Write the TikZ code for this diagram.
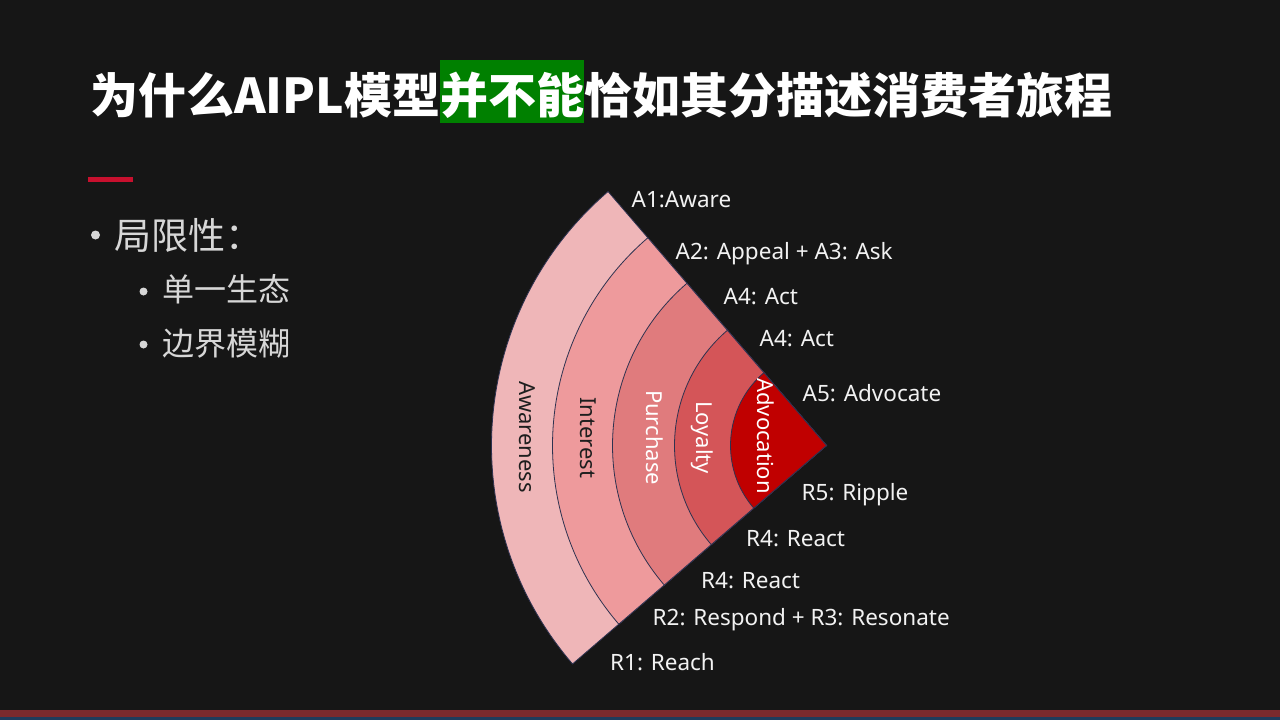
\documentclass[tikz,border=0pt]{standalone}
\usepackage{fontspec}
\setmainfont{Noto Sans CJK SC}
\newfontfamily\latinf{Noto Sans}
\usetikzlibrary{calc}
\definecolor{bg}{RGB}{22,22,22}
\definecolor{cAw}{RGB}{239,182,184}
\definecolor{cIn}{RGB}{238,154,156}
\definecolor{cPu}{RGB}{224,123,125}
\definecolor{cLo}{RGB}{212,85,88}
\definecolor{cAd}{RGB}{192,0,0}
\definecolor{edgec}{RGB}{46,50,80}
\definecolor{labelc}{RGB}{242,242,242}
\definecolor{darktxt}{RGB}{30,30,30}
\definecolor{hlgreen}{RGB}{0,128,0}
\definecolor{accent}{RGB}{200,16,46}
\definecolor{stripred}{RGB}{122,42,46}
\definecolor{stripblue}{RGB}{30,60,92}
\definecolor{bullettxt}{RGB}{215,215,215}
\begin{document}
\begin{tikzpicture}[x=1pt,y=-1pt,
  titlef/.style={font=\bfseries\fontsize{48}{56}\selectfont, text=white, inner sep=0pt},
  lbl/.style={font=\latinf\fontsize{22.5}{26}\selectfont, text=labelc, inner sep=0pt, anchor=base west},
  bandl/.style={font=\latinf\fontsize{22}{26}\selectfont, rotate=-90, inner sep=0pt},
  bone/.style={font=\fontsize{37}{44}\selectfont, text=bullettxt, inner sep=0pt, anchor=base west},
  btwo/.style={font=\fontsize{32}{38}\selectfont, text=bullettxt, inner sep=0pt, anchor=base west},
  sector/.style={draw=edgec, line width=0.8pt, line join=miter}]
\useasboundingbox (0,0) rectangle (1280,720);
\fill[bg] (0,0) rectangle (1280,720);
% bottom strip
\fill[stripred] (0,710) rectangle (1280,717);
\fill[stripblue] (0,717) rectangle (1280,720);
% title
\fill[hlgreen] (440,60) rectangle (584,123);
\node[titlef, anchor=base west] (t1) at (90,113) {为什么AIPL模型};
\node[titlef, anchor=base] (t2) at (512,113) {并不能};
\node[titlef, anchor=base west] (t3) at (584,113) {恰如其分描述消费者旅程};
% accent bar
\fill[accent] (88,177) rectangle (133,182);
% bullets
\fill[bullettxt] (95.5,235) circle[radius=4.5];
\node[bone] (b1) at (114,249) {局限性：};
\fill[bullettxt] (143.5,291.5) circle[radius=4];
\node[btwo] (b2) at (162,301) {单一生态};
\fill[bullettxt] (143.5,344.5) circle[radius=4];
\node[btwo] (b3) at (162,355) {边界模糊};
% fan
\coordinate (C) at (826.5,445.5);
\foreach \r/\c in {335/cAw, 274/cIn, 214/cPu, 152/cLo, 96/cAd}{
  \filldraw[sector, fill=\c] (C) -- ++(139.3:\r) arc[start angle=139.3, end angle=229.3, radius=\r] -- cycle;
}
% band labels
\node[bandl, text=darktxt] (nAw) at (527,437) {Awareness};
\node[bandl, text=darktxt] (nIn) at (588,437.5) {Interest};
\node[bandl, text=white] (nPu) at (655,437.5) {Purchase};
\node[bandl, text=white] (nLo) at (702,437.5) {Loyalty};
\node[bandl, text=white] (nAd) at (766,436) {Advocation};
% stage labels
\node[lbl] (a1) at (631.5,207.5) {A1:Aware};
\node[lbl] (a2) at (675.5,259) {A2: Appeal + A3: Ask};
\node[lbl] (a4a) at (723.5,304.5) {A4: Act};
\node[lbl] (a4b) at (759.5,346) {A4: Act};
\node[lbl] (a5) at (802.5,401.5) {A5: Advocate};
\node[lbl] (r5) at (801.5,500.5) {R5: Ripple};
\node[lbl] (r4a) at (746,546.5) {R4: React};
\node[lbl] (r4b) at (701,588.5) {R4: React};
\node[lbl] (r2) at (652.5,625) {R2: Respond + R3: Resonate};
\node[lbl] (r1) at (610,670) {R1: Reach};
\end{tikzpicture}
\end{document}
